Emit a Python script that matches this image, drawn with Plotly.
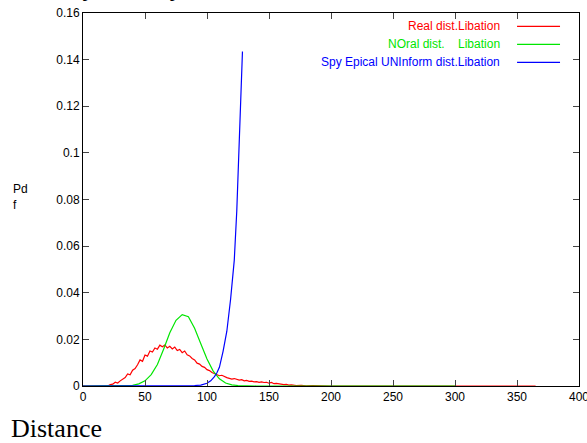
import plotly.graph_objects as go

# ---------------- data ----------------
red_x = [0, 20, 22, 24, 26, 28, 30, 32, 34, 36, 38, 40, 42, 44, 46, 48, 50, 52, 54, 56, 58,
         60, 62, 64, 66, 68, 70, 72, 74, 76, 78, 80, 82, 84, 86, 88, 90, 92, 94, 96, 98,
         100, 102, 104, 106, 108, 110, 112, 114, 116, 118, 120, 122, 124, 126, 128, 130,
         132, 134, 136, 138, 140, 142, 144, 146, 148, 150, 152, 154, 156, 158, 160, 162,
         164, 166, 168, 170, 172, 176, 180, 185, 190, 195, 200, 365]
red_y = [0, 0.0000, 0.0006, 0.0008, 0.0016, 0.0013, 0.0022, 0.0028, 0.0036, 0.0052, 0.0048,
         0.0068, 0.0075, 0.0091, 0.0112, 0.0106, 0.0133, 0.0128, 0.0150, 0.0146, 0.0163,
         0.0158, 0.0175, 0.0168, 0.0176, 0.0163, 0.0170, 0.0159, 0.0167, 0.0152, 0.0157,
         0.0143, 0.0150, 0.0134, 0.0129, 0.0118, 0.0112, 0.0098, 0.0094, 0.0084, 0.0080,
         0.0070, 0.0066, 0.0058, 0.0054, 0.0050, 0.0044, 0.0046, 0.0040, 0.0036, 0.0033,
         0.0030, 0.0032, 0.0027, 0.0025, 0.0027, 0.0022, 0.0024, 0.0020, 0.0021, 0.0018,
         0.0019, 0.0016, 0.0018, 0.0015, 0.0016, 0.0012, 0.0015, 0.0010, 0.0011, 0.0009,
         0.0008, 0.0006, 0.0007, 0.0004, 0.0005, 0.0003, 0.0002, 0.0003, 0.0001, 0.0002,
         0.0001, 0.0001, 0.0000, 0.0000]

green_x = [0, 35, 40, 45, 50, 55, 60, 65, 70, 75, 80, 85, 90, 95, 100, 105, 110, 115, 120,
           125, 130, 140, 300]
green_y = [0, 0.0000, 0.0003, 0.0009, 0.0022, 0.0049, 0.0092, 0.0158, 0.0228, 0.0282, 0.0306,
           0.0297, 0.0248, 0.0181, 0.0116, 0.0064, 0.0031, 0.0013, 0.0005, 0.0002, 0.0001,
           0.0000, 0.0000]

blue_x = [0, 85, 90, 95, 100, 103, 106, 108, 110, 113, 116, 119, 122, 124, 125.5, 127, 128.6]
blue_y = [0, 0.0000, 0.0002, 0.0004, 0.0012, 0.0022, 0.0040, 0.0057, 0.0080, 0.0150, 0.0235,
          0.0371, 0.0540, 0.0750, 0.0983, 0.1170, 0.1435]

series_names = ["Real dist.Libation", "NOral dist.    Libation", "Spy Epical UNInform dist.Libation"]
series_colors = ["#ff0000", "#00e600", "#0000ff"]

x_ticks = [0, 50, 100, 150, 200, 250, 300, 350, 400]
y_ticks = [0, 0.02, 0.04, 0.06, 0.08, 0.1, 0.12, 0.14, 0.16]
y_tick_text = ["0", "0.02", "0.04", "0.06", "0.08", "0.1", "0.12", "0.14", "0.16"]

# ---------------- figure ----------------
fig = go.Figure()
for xs, ys, name, col in zip([red_x, green_x, blue_x], [red_y, green_y, blue_y],
                             series_names, series_colors):
    fig.add_trace(go.Scatter(x=xs, y=ys, mode="lines", name=name,
                             line=dict(color=col, width=1.2), showlegend=False,
                             cliponaxis=False))

W, H = 587, 443
ml, mr, mt, mb = 82.5, 8, 12.5, 56.5
fig.update_layout(
    width=W, height=H,
    margin=dict(l=ml, r=mr, t=mt, b=mb, autoexpand=False),
    paper_bgcolor="white", plot_bgcolor="white",
    font=dict(family="Liberation Sans, Arial, sans-serif", size=12, color="black"),
    xaxis=dict(range=[0, 400], tickvals=x_ticks, ticks="inside", ticklen=6,
               showline=True, linecolor="black", linewidth=1, mirror="ticks",
               showgrid=False, zeroline=False, tickfont=dict(size=12), automargin=False,
               ticklabeloverflow="allow"),
    yaxis=dict(range=[0, 0.16], tickvals=y_ticks, ticktext=y_tick_text, ticks="inside",
               ticklen=6, showline=True, linecolor="black", linewidth=1, mirror="ticks",
               showgrid=False, zeroline=False, tickfont=dict(size=12), automargin=False,
               ticklabeloverflow="allow"),
)

pw = W - ml - mr
ph = H - mt - mb


def px2paper_x(px):
    return (px - ml) / pw


def px2paper_y(py):
    return (H - mb - py) / ph


# legend (text right aligned, line samples on the right)
legend_y = [26, 44, 62]
for name, col, py in zip(series_names, series_colors, legend_y):
    fig.add_annotation(xref="paper", yref="paper", x=px2paper_x(502), y=px2paper_y(py),
                       xanchor="right", yanchor="middle", text=name, showarrow=False,
                       font=dict(color=col, size=12))
    fig.add_shape(type="line", xref="paper", yref="paper",
                  x0=px2paper_x(517), x1=px2paper_x(560),
                  y0=px2paper_y(py), y1=px2paper_y(py),
                  line=dict(color=col, width=1.2))

# y label
fig.add_annotation(xref="paper", yref="paper", x=px2paper_x(10), y=px2paper_y(197),
                   xanchor="left", yanchor="middle", align="left", text="Pd<br>f",
                   showarrow=False, font=dict(size=12))

# x label
fig.add_annotation(xref="paper", yref="paper", x=px2paper_x(8), y=px2paper_y(429),
                   xanchor="left", yanchor="middle", text="Distance", showarrow=False,
                   font=dict(family="Liberation Serif, Times New Roman, serif", size=26))

# title, mostly cut off above the top edge
fig.add_annotation(xref="paper", yref="paper", x=px2paper_x(26), y=px2paper_y(3.8),
                   xanchor="left", yanchor="bottom", text="Policy Density", showarrow=False,
                   font=dict(family="Liberation Serif, Times New Roman, serif", size=26))

fig.write_html("out.html", config={"displayModeBar": False},
               post_script="document.body.style.margin='0px';document.body.style.overflow='hidden';")
